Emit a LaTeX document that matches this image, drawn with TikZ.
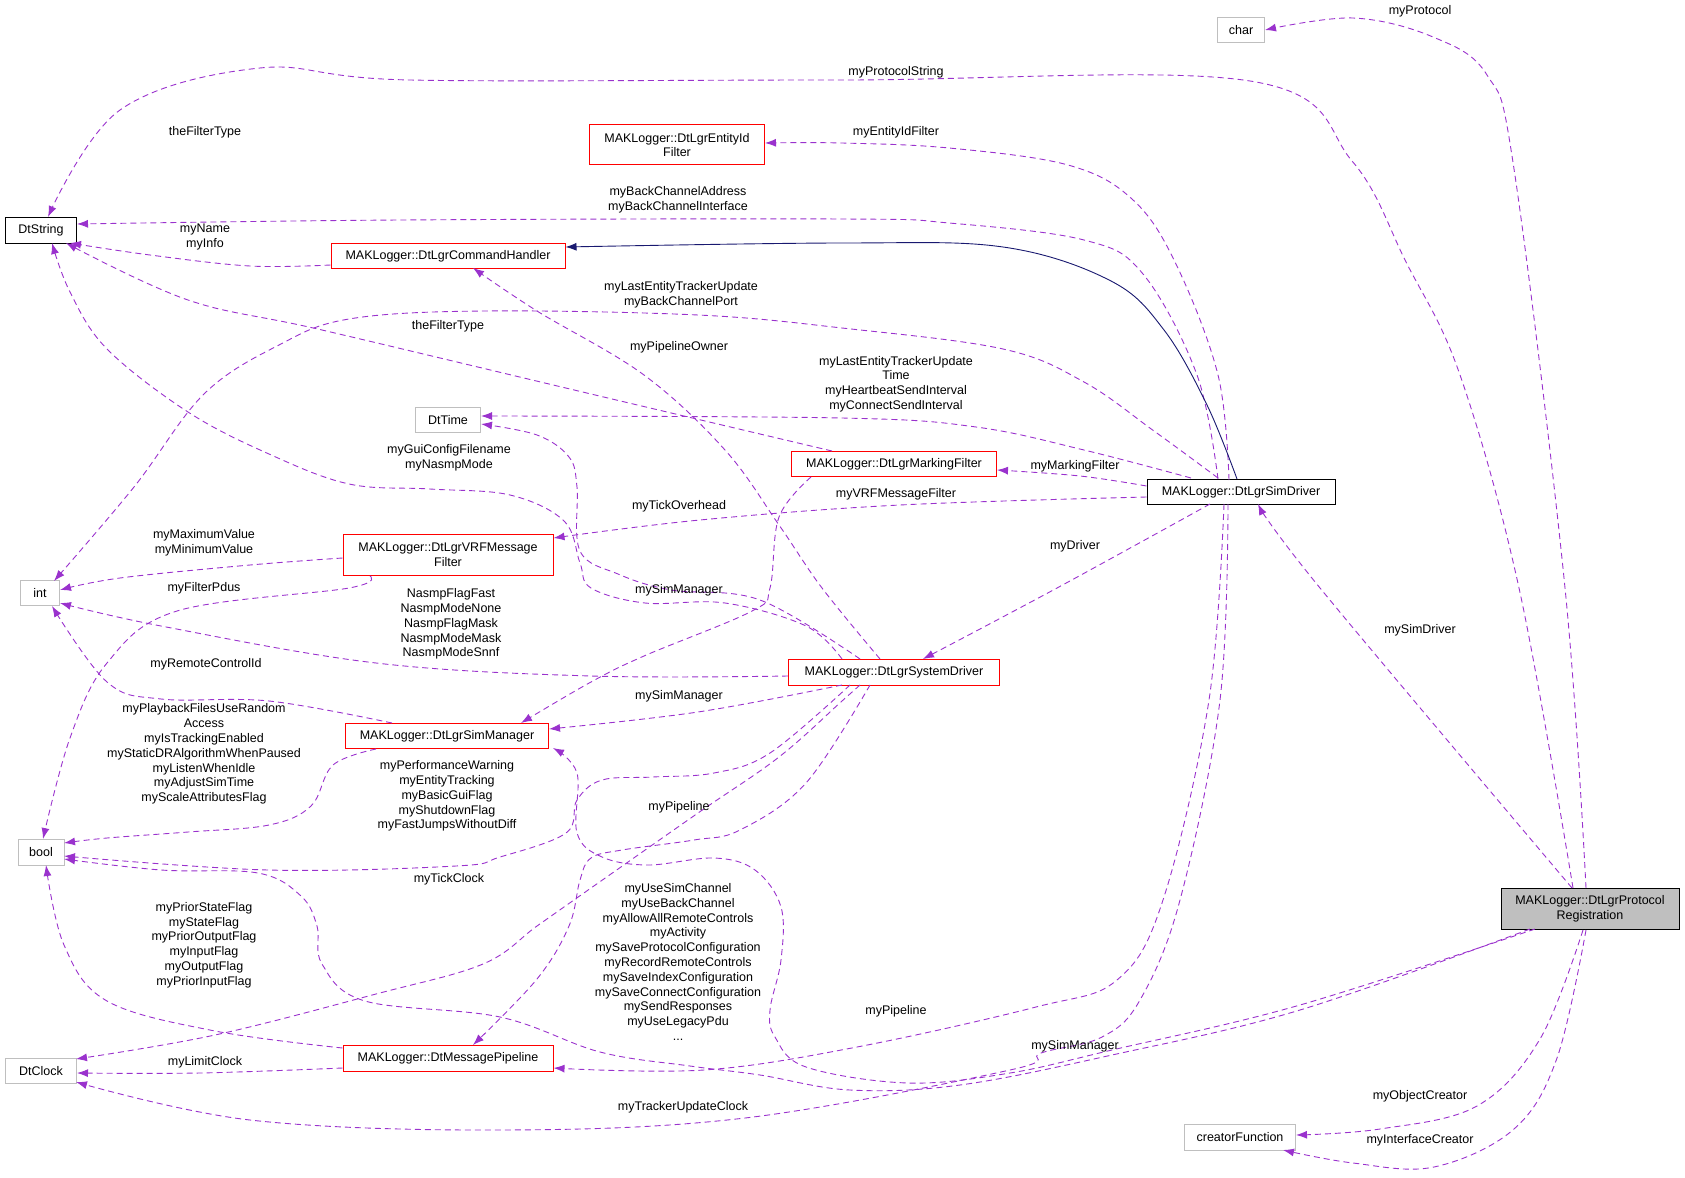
\documentclass[tikz,border=0pt]{standalone}
\usepackage{fontspec}
\setmainfont{Liberation Sans}
\usetikzlibrary{arrows.meta}
\definecolor{edgec}{HTML}{9A32CD}
\definecolor{navy}{HTML}{191970}
\definecolor{grayb}{HTML}{BFBFBF}
\begin{document}
\begin{tikzpicture}[x=1pt,y=-1pt,
  box/.style={draw,inner sep=0pt,align=center,font=\fontsize{12.5}{14.8}\selectfont},
  rb/.style={box,draw=red,line width=1pt},
  gb/.style={box,draw=grayb,line width=1pt},
  kb/.style={box,draw=black,line width=1pt},
  e/.style={draw=edgec,line width=0.9pt,dash pattern=on 6pt off 4pt,-{Latex[length=11pt,width=8pt]}},
  inh/.style={draw=navy,line width=0.9pt,-{Latex[length=11pt,width=8pt]}},
  lbl/.style={align=center,inner sep=0pt,font=\fontsize{12.5}{14.8}\selectfont}]
\useasboundingbox (0,0) rectangle (1685,1177);
\node[gb,minimum width=47pt,minimum height=25pt] (char) at (1241,30) {char};
\node[kb,minimum width=71pt,minimum height=26pt] (dtstring) at (41,230) {DtString};
\node[rb,minimum width=175pt,minimum height=40pt] (entity) at (677,145) {MAKLogger::DtLgrEntityId\\Filter};
\node[rb,minimum width=234pt,minimum height=25pt] (cmdh) at (448,256) {MAKLogger::DtLgrCommandHandler};
\node[gb,minimum width=65pt,minimum height=25pt] (dttime) at (448,420) {DtTime};
\node[rb,minimum width=205pt,minimum height=25pt] (marking) at (894,464) {MAKLogger::DtLgrMarkingFilter};
\node[kb,minimum width=188pt,minimum height=25pt] (simdrv) at (1241,492) {MAKLogger::DtLgrSimDriver};
\node[rb,minimum width=210pt,minimum height=41pt] (vrf) at (448,555) {MAKLogger::DtLgrVRFMessage\\Filter};
\node[gb,minimum width=39pt,minimum height=25pt] (int) at (40,593) {int};
\node[rb,minimum width=211pt,minimum height=26pt] (sysdrv) at (894,672) {MAKLogger::DtLgrSystemDriver};
\node[rb,minimum width=203pt,minimum height=25pt] (simmgr) at (447,736) {MAKLogger::DtLgrSimManager};
\node[gb,minimum width=46pt,minimum height=26pt] (bool) at (41,852) {bool};
\node[rb,minimum width=210pt,minimum height=26pt] (pipe) at (448,1058) {MAKLogger::DtMessagePipeline};
\node[gb,minimum width=71pt,minimum height=25pt] (dtclock) at (41,1071) {DtClock};
\node[box,draw=black,fill=grayb,line width=1pt,minimum width=178pt,minimum height=41pt] (proto) at (1590,909) {MAKLogger::DtLgrProtocol\\Registration};
\node[gb,minimum width=111pt,minimum height=26pt] (creator) at (1240,1137) {creatorFunction};

% edges
\draw[e] plot[smooth,tension=0.6] coordinates {(1586,888) (1565,588) (1514,169) (1487,75) (1433,37) (1353,18) (char.east)};
\draw[e] plot[smooth,tension=0.6] coordinates {(1573,888) (1519,588) (1460,375) (1406,262) (1352,161) (1250,81) (842,80) (410,80) (260,68) (120,110) (48,217)};
\draw[e] plot[smooth,tension=0.6] coordinates {(1229,480) (1218,375) (1175,262) (1132,199) (1068,165) (949,148) (842,143) (entity.east|-0,143)};
\draw[e] plot[smooth,tension=0.6] coordinates {(1218,479) (1197,375) (1143,274) (1084,240) (949,223) (842,219) (400,220) (dtstring.east|-0,224)};
\draw[inh] plot[smooth,tension=0.6] coordinates {(1237,479) (1207,405) (1164,330) (1111,281) (1003,247) (842,243) (cmdh.east|-0,247)};
\draw[e] plot[smooth,tension=0.6] coordinates {(cmdh.west|-0,265) (250,266) (150,255) (70,243)};
\draw[e] plot[smooth,tension=0.6] coordinates {(1218,478) (1154,431) (1084,382) (1003,349) (842,328) (698,315) (483,311) (349,319) (279,345) (204,394) (134,487) (54,581)};
\draw[e] plot[smooth,tension=0.6] coordinates {(832,451) (591,394) (322,330) (188,300) (66,243)};
\draw[e] plot[smooth,tension=0.6] coordinates {(1191,478) (1084,450) (976,427) (842,418) (dttime.east|-0,416)};
\draw[e] plot[smooth,tension=0.6] coordinates {(880,659) (822,588) (779,525) (725,450) (644,375) (537,311) (473,268)};
\draw[e] plot[smooth,tension=0.6] coordinates {(842,659) (806,626) (725,603) (645,603) (591,588) (580,563) (564,521) (510,495) (430,489) (349,484) (269,454) (188,412) (107,349) (70,292) (52,243)};
\draw[e] plot[smooth,tension=0.6] coordinates {(860,659) (760,600) (671,590) (618,574) (580,551) (577,487) (569,457) (537,435) (dttime.east|-0,424)};
\draw[e] plot[smooth,tension=0.6] coordinates {(simdrv.west|-0,486) (1080,476) (marking.east|-0,470)};
\draw[e] plot[smooth,tension=0.6] coordinates {(simdrv.west|-0,497) (900,505) (700,520) (vrf.east|-0,538)};
\draw[e] plot[smooth,tension=0.6] coordinates {(vrf.west|-0,558) (250,565) (120,578) (60,590)};
\draw[e] plot[smooth,tension=0.6] coordinates {(370,576) (349,588) (177,611) (107,663) (70,738) (43,839)};
\draw[e] plot[smooth,tension=0.6] coordinates {(1210,504) (1057,588) (923,659)};
\draw[e] plot[smooth,tension=0.6] coordinates {(811,477) (779,517) (770,588) (752,611) (644,656) (591,682) (521,723)};
\draw[e] plot[smooth,tension=0.6] coordinates {(sysdrv.west|-0,676) (591,676) (376,663) (161,626) (60,603)};
\draw[e] plot[smooth,tension=0.6] coordinates {(392,723) (269,701) (161,699) (107,682) (52,606)};
\draw[e] plot[smooth,tension=0.6] coordinates {(842,685) (698,712) (simmgr.east|-0,729)};
\draw[e] plot[smooth,tension=0.6] coordinates {(376,749) (333,765) (311,806) (269,825) (188,832) (107,838) (64,843)};
\draw[e] plot[smooth,tension=0.6] coordinates {(850,685) (770,753) (714,773) (653,777) (602,780) (577,800) (566,833) (500,857) (456,866) (268,870) (64,856)};
\draw[e] plot[smooth,tension=0.6] coordinates {(870,685) (806,783) (740,830) (694,840) (622,850) (591,858) (580,880) (569,926) (537,979) (473,1045)};
\draw[e] plot[smooth,tension=0.6] coordinates {(860,685) (842,701) (779,757) (698,813) (591,888) (537,926) (483,964) (376,994) (215,1035) (76,1059)};
\draw[e] plot[smooth,tension=0.6] coordinates {(1535,929) (1300,1005) (1112,1050) (1010,1073) (908,1083) (806,1067) (775,1037) (770,1010) (781,960) (781,907) (755,870) (714,858) (648,865) (602,857) (577,833) (577,773) (553,748)};
\draw[e] plot[smooth,tension=0.6] coordinates {(1530,929) (1300,1010) (1112,1055) (960,1085) (850,1090) (760,1075) (690,1066) (600,1052) (500,1017) (365,1001) (322,964) (317,926) (301,896) (258,873) (161,870) (64,859)};
\draw[e] plot[smooth,tension=0.6] coordinates {(1224,504) (1209,700) (1163,900) (1117,980) (1036,1007) (857,1047) (704,1070) (pipe.east|-0,1068)};
\draw[e] plot[smooth,tension=0.6] coordinates {(1228,504) (1220,700) (1180,900) (1140,1000) (1102,1037) (1041,1053) (1010,1070) (745,1118) (500,1130) (250,1120) (76,1082)};
\draw[e] plot[smooth,tension=0.6] coordinates {(1572,888) (1320,588) (1258,504)};
\draw[e] plot[smooth,tension=0.6] coordinates {(pipe.west|-0,1048) (215,1031) (107,1001) (64,945) (46,865)};
\draw[e] plot[smooth,tension=0.6] coordinates {(pipe.west|-0,1068) (200,1073) (dtclock.east|-0,1073)};
\draw[e] plot[smooth,tension=0.6] coordinates {(1583,930) (1540,1039) (1477,1106) (1380,1129) (creator.east|-0,1135)};
\draw[e] plot[smooth,tension=0.6] coordinates {(1586,930) (1557,1058) (1514,1129) (1434,1167) (1353,1163) (1283,1150)};

% labels
\node[lbl] (l1) at (1420,11) {myProtocol};
\node[lbl] (l2) at (896,72) {myProtocolString};
\node[lbl] (l3) at (205,132) {theFilterType};
\node[lbl] (l4) at (896,132) {myEntityIdFilter};
\node[lbl] (l5) at (678,200) {myBackChannelAddress\\myBackChannelInterface};
\node[lbl] (l6) at (205,237) {myName\\myInfo};
\node[lbl] (l7) at (681,295) {myLastEntityTrackerUpdate\\myBackChannelPort};
\node[lbl] (l8) at (448,326) {theFilterType};
\node[lbl] (l9) at (679,347) {myPipelineOwner};
\node[lbl] (l10) at (896,384) {myLastEntityTrackerUpdate\\Time\\myHeartbeatSendInterval\\myConnectSendInterval};
\node[lbl] (l11) at (449,458) {myGuiConfigFilename\\myNasmpMode};
\node[lbl] (l12) at (1075,466) {myMarkingFilter};
\node[lbl] (l13) at (896,494) {myVRFMessageFilter};
\node[lbl] (l14) at (679,506) {myTickOverhead};
\node[lbl] (l15) at (204,543) {myMaximumValue\\myMinimumValue};
\node[lbl] (l16) at (1075,546) {myDriver};
\node[lbl] (l17) at (204,588) {myFilterPdus};
\node[lbl] (l18) at (679,590) {mySimManager};
\node[lbl] (l19) at (451,624) {NasmpFlagFast\\NasmpModeNone\\NasmpFlagMask\\NasmpModeMask\\NasmpModeSnnf};
\node[lbl] (l20) at (1420,630) {mySimDriver};
\node[lbl] (l21) at (206,664) {myRemoteControlId};
\node[lbl] (l22) at (679,696) {mySimManager};
\node[lbl] (l23) at (204,754) {myPlaybackFilesUseRandom\\Access\\myIsTrackingEnabled\\myStaticDRAlgorithmWhenPaused\\myListenWhenIdle\\myAdjustSimTime\\myScaleAttributesFlag};
\node[lbl] (l24) at (447,796) {myPerformanceWarning\\myEntityTracking\\myBasicGuiFlag\\myShutdownFlag\\myFastJumpsWithoutDiff};
\node[lbl] (l25) at (679,807) {myPipeline};
\node[lbl] (l26) at (449,879) {myTickClock};
\node[lbl] (l27) at (204,945) {myPriorStateFlag\\myStateFlag\\myPriorOutputFlag\\myInputFlag\\myOutputFlag\\myPriorInputFlag};
\node[lbl] (l28) at (678,962) {myUseSimChannel\\myUseBackChannel\\myAllowAllRemoteControls\\myActivity\\mySaveProtocolConfiguration\\myRecordRemoteControls\\mySaveIndexConfiguration\\mySaveConnectConfiguration\\mySendResponses\\myUseLegacyPdu\\...};
\node[lbl] (l29) at (896,1011) {myPipeline};
\node[lbl] (l30) at (205,1062) {myLimitClock};
\node[lbl] (l31) at (1075,1046) {mySimManager};
\node[lbl] (l32) at (683,1107) {myTrackerUpdateClock};
\node[lbl] (l33) at (1420,1096) {myObjectCreator};
\node[lbl] (l34) at (1420,1140) {myInterfaceCreator};
\end{tikzpicture}
\end{document}
